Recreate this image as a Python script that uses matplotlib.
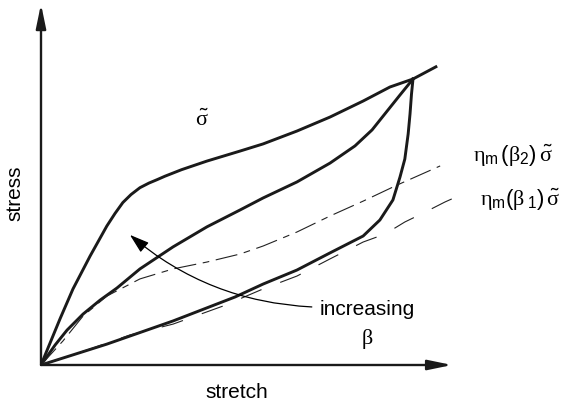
import matplotlib
matplotlib.use('Agg')
import matplotlib.pyplot as plt

plt.rcParams['font.family'] = ['Liberation Sans', 'DejaVu Sans']
# upright serif greek like the Symbol font of the sketch, sans digits
plt.rcParams['mathtext.fontset'] = 'custom'
plt.rcParams['mathtext.rm'] = 'Liberation Sans'
plt.rcParams['mathtext.sf'] = 'Liberation Sans'
plt.rcParams['mathtext.it'] = 'Liberation Serif'
plt.rcParams['mathtext.bf'] = 'Liberation Sans:bold'

# stretch / stress (origin = 0, turning point = 1)
# loading curve sigma-tilde
load_x = [0, 0.051, 0.086, 0.132, 0.177, 0.199, 0.220, 0.242, 0.266, 0.290,
          0.312, 0.333, 0.378, 0.446, 0.535, 0.597, 0.688, 0.777, 0.866,
          0.938, 1.0, 1.065]
load_y = [0, 0.161, 0.266, 0.381, 0.486, 0.530, 0.568, 0.596, 0.620, 0.636,
          0.648, 0.660, 0.683, 0.713, 0.748, 0.773, 0.818, 0.867, 0.923,
          0.972, 1.0, 1.045]

# upper unloading curve
unload_hi_x = [0, 0.038, 0.070, 0.113, 0.159, 0.204, 0.266, 0.355, 0.446, 0.535,
               0.597, 0.688, 0.777, 0.844, 0.890, 0.933, 0.965, 1.0]
unload_hi_y = [0, 0.070, 0.122, 0.178, 0.227, 0.269, 0.336, 0.413, 0.483, 0.542,
               0.584, 0.640, 0.706, 0.766, 0.822, 0.892, 0.944, 1.0]

# lower unloading curve
unload_lo_x = [0, 0.177, 0.355, 0.522, 0.597, 0.688, 0.777, 0.866, 0.911, 0.946,
               0.965, 0.978, 0.987, 0.992, 0.996, 1.0]
unload_lo_y = [0, 0.073, 0.154, 0.238, 0.283, 0.332, 0.392, 0.451, 0.507, 0.577,
               0.657, 0.720, 0.808, 0.878, 0.948, 1.0]

# eta_m(beta_2) * sigma-tilde
eta2_x = [0, 0.059, 0.113, 0.177, 0.266, 0.355, 0.446, 0.535, 0.597, 0.688,
          0.777, 0.866, 0.957, 1.073]
eta2_y = [0, 0.084, 0.171, 0.241, 0.301, 0.336, 0.360, 0.388, 0.416, 0.465,
          0.521, 0.573, 0.629, 0.696]

# eta_m(beta_1) * sigma-tilde
eta1_x = [0, 0.132, 0.239, 0.355, 0.489, 0.597, 0.688, 0.777, 0.866, 0.925,
          0.978, 1.027, 1.086, 1.134]
eta1_y = [0, 0.056, 0.105, 0.143, 0.206, 0.266, 0.311, 0.371, 0.430, 0.458,
          0.500, 0.531, 0.570, 0.598]

fig = plt.figure(figsize=(5.65, 4.06), dpi=100)
ax = fig.add_axes([41 / 565, 40 / 406, 524 / 565, 366 / 406])
ax.set_xlim(0, 524 / 372)
ax.set_ylim(0, 366 / 286)
ax.axis('off')

# axes with arrow heads
ax_style = dict(arrowstyle='-|>,head_length=1.45,head_width=0.3', color='#1a1a1a',
                lw=1.7, mutation_scale=10, shrinkA=0, shrinkB=0)
ax.annotate('', xy=(0, 1.262), xytext=(0, 0), arrowprops=ax_style)
ax.annotate('', xy=(1.105, 0), xytext=(0, 0), arrowprops=ax_style)

# curves
ax.plot(load_x, load_y, color='#1a1a1a', lw=2.1, solid_capstyle='butt')
ax.plot(unload_hi_x, unload_hi_y, color='#1a1a1a', lw=2.1)
ax.plot(unload_lo_x, unload_lo_y, color='#1a1a1a', lw=2.1)
ax.plot(eta2_x, eta2_y, color='#222222', lw=0.8, dashes=(20, 6, 6, 6))
ax.plot(eta1_x, eta1_y, color='#222222', lw=0.8, dashes=(20, 18))

# increasing beta arrow
ax.annotate('', xy=(0.239, 0.455), xytext=(0.728, 0.203),
            arrowprops=dict(arrowstyle='-|>,head_length=1.0,head_width=0.32',
                            color='black', lw=0.9, mutation_scale=12,
                            shrinkA=0, shrinkB=0,
                            connectionstyle='arc3,rad=-0.17'))

# text
ax.text(0.433, 0.860, r'$\tilde{\sigma}$', fontsize=16, ha='center', va='center')
ax.text(1.161, 0.734, r'$\eta_{\mathsf{m}}\,(\beta_2)\,\tilde{\sigma}$',
        fontsize=16, ha='left', va='center')
ax.text(1.180, 0.580, r'$\eta_{\mathsf{m}}(\beta_{\;1})\,\tilde{\sigma}$',
        fontsize=16, ha='left', va='center')
ax.text(0.876, 0.196, 'increasing', fontsize=15, ha='center', va='center')
ax.text(0.876, 0.094, r'$\beta$', fontsize=16, ha='center', va='center')
ax.text(-0.07, 0.605, 'stress', fontsize=15, rotation=90, ha='center', va='center')
ax.text(0.527, -0.094, 'stretch', fontsize=15, ha='center', va='center')

fig.savefig('out.png', dpi=100)
